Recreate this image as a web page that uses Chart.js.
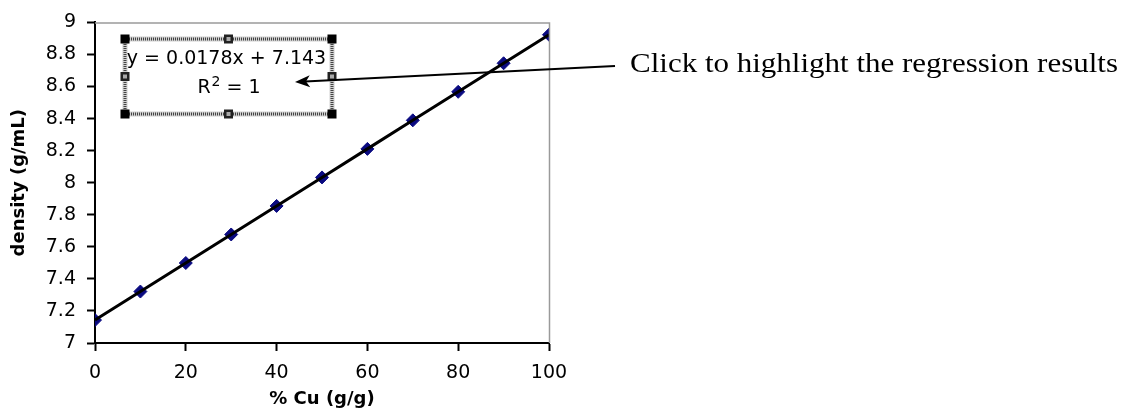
<!DOCTYPE html>
<html>
<head>
<meta charset="utf-8">
<script src="https://cdn.jsdelivr.net/npm/chart.js@4/dist/chart.umd.min.js"></script>
<style>
  html, body { margin: 0; padding: 0; background: #fff; }
  #wrap { width: 1138px; height: 410px; position: relative; }
</style>
</head>
<body>
<div id="wrap"><canvas id="c" width="1138" height="410"></canvas></div>
<script>
// ---- data ----
const cuPercent = [0, 10, 20, 30, 40, 50, 60, 70, 80, 90, 100];
const density = [7.143, 7.321, 7.499, 7.677, 7.855, 8.033, 8.211, 8.389, 8.567, 8.745, 8.923];
const xTickLabels = ['0', '20', '40', '60', '80', '100'];
const yTickLabels = ['7', '7.2', '7.4', '7.6', '7.8', '8', '8.2', '8.4', '8.6', '8.8', '9'];
const equationText = 'y = 0.0178x + 7.143';
const rSquaredText = ['R', '2', ' = 1'];
const noteText = 'Click to highlight the regression results';
const xTitle = '% Cu (g/g)';
const yTitle = 'density (g/mL)';

const points = cuPercent.map((x, i) => ({ x: x, y: density[i] }));

const overlay = {
  id: 'overlay',
  afterDraw(chart) {
    const ctx = chart.ctx;
    const a = chart.chartArea;
    ctx.save();
    // gray plot-area border (top and right)
    ctx.strokeStyle = '#9a9a9a';
    ctx.lineWidth = 1.5;
    ctx.beginPath();
    ctx.moveTo(a.left, a.top + 0.5);
    ctx.lineTo(a.right + 0.5, a.top + 0.5);
    ctx.lineTo(a.right + 0.5, a.bottom);
    ctx.stroke();

    // regression label box (selected)
    const bx0 = 125, by0 = 39, bx1 = 332, by1 = 114;
    ctx.fillStyle = '#ffffff';
    ctx.fillRect(bx0, by0, bx1 - bx0, by1 - by0);
    ctx.lineWidth = 5;
    ctx.strokeStyle = '#d0d0d0';
    ctx.strokeRect(bx0, by0, bx1 - bx0, by1 - by0);
    ctx.lineWidth = 3;
    ctx.setLineDash([1, 1]);
    ctx.strokeStyle = '#444';
    ctx.strokeRect(bx0, by0, bx1 - bx0, by1 - by0);
    ctx.setLineDash([]);

    // text in box
    ctx.fillStyle = '#000';
    ctx.font = '19px "DejaVu Sans"';
    ctx.textAlign = 'center';
    ctx.textBaseline = 'middle';
    const cx = (bx0 + bx1) / 2;
    ctx.fillText(equationText, cx - 2, 59);
    const f1 = '19px "DejaVu Sans"', f2 = '14px "DejaVu Sans"';
    ctx.font = f1; const wR = ctx.measureText(rSquaredText[0]).width;
    const wE = ctx.measureText(rSquaredText[2]).width;
    ctx.font = f2; const w2 = ctx.measureText(rSquaredText[1]).width;
    let sx = cx - (wR + w2 + wE) / 2;
    ctx.textAlign = 'left';
    ctx.font = f1; ctx.fillText(rSquaredText[0], sx, 88);
    ctx.font = f2; ctx.fillText(rSquaredText[1], sx + wR + 1, 82);
    ctx.font = f1; ctx.fillText(rSquaredText[2], sx + wR + w2 + 1, 88);

    // handles
    const hs = 9;
    const handles = [[bx0, by0], [cx, by0], [bx1, by0], [bx0, (by0 + by1) / 2], [bx1, (by0 + by1) / 2], [bx0, by1], [cx, by1], [bx1, by1]];
    handles.forEach(([hx, hy], i) => {
      const corner = (i === 0 || i === 2 || i === 5 || i === 7);
      ctx.fillStyle = corner ? '#000' : '#222';
      ctx.fillRect(hx - hs / 2, hy - hs / 2, hs, hs);
      if (!corner) {
        ctx.fillStyle = '#aaa';
        ctx.fillRect(hx - 2, hy - 2, 4, 4);
      }
    });

    // arrow
    const ax0 = 615, ay0 = 66, ax1 = 295, ay1 = 82;
    const ang = Math.atan2(ay1 - ay0, ax1 - ax0);
    ctx.strokeStyle = '#000';
    ctx.lineWidth = 2;
    ctx.beginPath();
    ctx.moveTo(ax0, ay0);
    ctx.lineTo(ax1 - 10 * Math.cos(ang), ay1 - 10 * Math.sin(ang));
    ctx.stroke();
    ctx.fillStyle = '#000';
    ctx.beginPath();
    ctx.moveTo(ax1, ay1);
    ctx.lineTo(ax1 - 15 * Math.cos(ang) - 6 * Math.sin(ang), ay1 - 15 * Math.sin(ang) + 6 * Math.cos(ang));
    ctx.lineTo(ax1 - 11 * Math.cos(ang), ay1 - 11 * Math.sin(ang));
    ctx.lineTo(ax1 - 15 * Math.cos(ang) + 6 * Math.sin(ang), ay1 - 15 * Math.sin(ang) - 6 * Math.cos(ang));
    ctx.closePath();
    ctx.fill();

    // note text (stretched to the reference width)
    ctx.font = '27px "Liberation Serif", "Times New Roman", serif';
    ctx.textAlign = 'left';
    ctx.textBaseline = 'alphabetic';
    const tw = ctx.measureText(noteText).width;
    const sc = 488 / tw;
    ctx.translate(630, 72);
    ctx.scale(sc, 1);
    ctx.fillText(noteText, 0, 0);
    ctx.restore();
  }
};

new Chart(document.getElementById('c'), {
  type: 'scatter',
  data: {
    datasets: [
      {
        label: 'density',
        data: points,
        showLine: false,
        pointStyle: 'rectRot',
        pointRadius: 6.5,
        pointHoverRadius: 6.5,
        pointBackgroundColor: '#0a0a80',
        pointBorderColor: '#0a0a80',
        pointBorderWidth: 1,
        order: 2
      },
      {
        label: 'trend',
        data: points,
        showLine: true,
        borderColor: '#000',
        borderWidth: 3,
        pointRadius: 0,
        pointHoverRadius: 0,
        fill: false,
        order: 1
      }
    ]
  },
  options: {
    responsive: false,
    animation: false,
    devicePixelRatio: 1,
    layout: { padding: { left: 0, top: 19, right: 589, bottom: 0 } },
    plugins: { legend: { display: false }, tooltip: { enabled: false } },
    scales: {
      x: {
        type: 'linear',
        min: 0, max: 100,
        afterFit(s) { s.height = 67; },
        afterBuildTicks(s) { s.ticks = xTickLabels.map(t => ({ value: Number(t) })); },
        ticks: {
          color: '#000',
          font: { family: '"DejaVu Sans"', size: 19 },
          padding: 11,
          maxRotation: 0,
          callback: (v) => { const i = xTickLabels.indexOf(String(v)); return i >= 0 ? xTickLabels[i] : ''; }
        },
        grid: { drawOnChartArea: false, tickLength: 8, tickWidth: 2, tickColor: '#000' },
        border: { display: true, color: '#000', width: 2 },
        title: {
          display: true, text: xTitle, color: '#000',
          font: { family: '"DejaVu Sans"', size: 18, weight: 'bold' },
          padding: { top: 0, bottom: 0 }
        }
      },
      y: {
        type: 'linear',
        min: 7, max: 9,
        afterFit(s) { s.width = 95; },
        afterBuildTicks(s) { s.ticks = yTickLabels.map(t => ({ value: Number(t) })); },
        ticks: {
          color: '#000',
          font: { family: '"DejaVu Sans"', size: 19 },
          padding: 11,
          callback: (v) => { const i = yTickLabels.map(Number).findIndex(t => Math.abs(t - v) < 1e-9); return i >= 0 ? yTickLabels[i] : ''; }
        },
        grid: { drawOnChartArea: false, tickLength: 8, tickWidth: 2, tickColor: '#000' },
        border: { display: true, color: '#000', width: 2 },
        title: {
          display: true, text: yTitle, color: '#000',
          font: { family: '"DejaVu Sans"', size: 18, weight: 'bold' },
          padding: { top: 9, bottom: 0 }
        }
      }
    }
  },
  plugins: [overlay]
});
</script>
</body>
</html>
